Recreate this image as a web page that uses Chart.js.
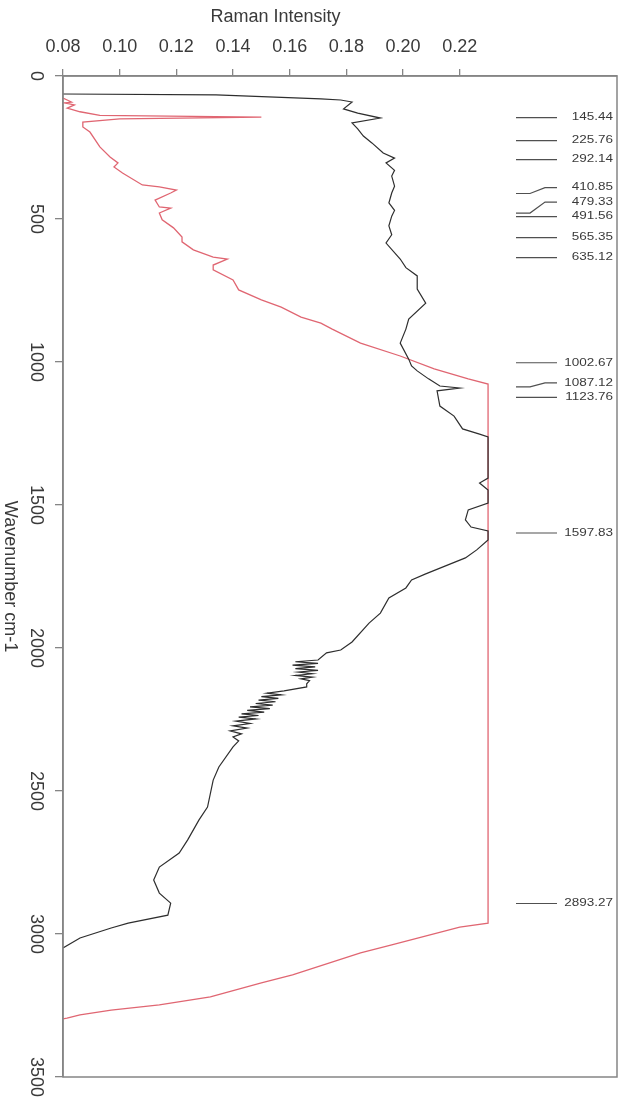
<!DOCTYPE html>
<html>
<head>
<meta charset="utf-8">
<script src="https://cdn.jsdelivr.net/npm/chart.js@4.4.1/dist/chart.umd.min.js"></script>
<style>
body{margin:0;background:#fff;}
#wrap{width:628px;height:1098px;}
</style>
</head>
<body>
<div id="wrap"><canvas id="grafica" width="628" height="1098"></canvas></div>
<script>
var intensityTicks = [0.08, 0.10, 0.12, 0.14, 0.16, 0.18, 0.20, 0.22];
var wavenumberTicks = [0, 500, 1000, 1500, 2000, 2500, 3000, 3500];

// curva negra
var blackWn = [63, 66, 80, 84, 91, 115, 130, 147, 164, 185, 210, 234, 269, 287, 304, 330, 350, 385, 409, 444, 470, 490, 524, 555, 584,
  640, 670, 699, 745, 794, 850, 885, 934, 990, 1014, 1031, 1059, 1084, 1091, 1101, 1154, 1189, 1234, 1252, 1262,
  1406, 1423, 1448, 1493, 1517, 1552, 1577, 1591, 1622, 1657, 1685, 1713, 1741, 1762, 1790, 1825, 1878, 1913,
  1979, 2007, 2017, 2042, 2048, 2054, 2060, 2066, 2072, 2078, 2084, 2090, 2096, 2102, 2108, 2114, 2125, 2136,
  2150, 2158, 2164, 2170, 2176, 2182, 2188, 2194, 2200, 2206, 2212, 2218, 2224, 2230, 2236, 2242, 2248, 2256,
  2264, 2272, 2280, 2290, 2300, 2311, 2325, 2346, 2416, 2462, 2556, 2601, 2671, 2717, 2766, 2811,
  2857, 2892, 2934, 2962, 2979, 3014, 3049];
var blackInt = [0.080, 0.134, 0.171, 0.178, 0.182, 0.179, 0.184, 0.192, 0.182, 0.184, 0.186, 0.189, 0.193, 0.197, 0.194, 0.197, 0.196, 0.197, 0.196, 0.195, 0.197, 0.196, 0.195, 0.196, 0.194,
  0.199, 0.201, 0.205, 0.205, 0.208, 0.202, 0.201, 0.199, 0.202, 0.203, 0.205, 0.209, 0.213, 0.220, 0.212, 0.213, 0.218, 0.221, 0.227, 0.230,
  0.230, 0.227, 0.230, 0.230, 0.223, 0.222, 0.224, 0.230, 0.230, 0.226, 0.222, 0.215, 0.208, 0.203, 0.201, 0.195, 0.192, 0.188,
  0.182, 0.178, 0.173, 0.170, 0.162, 0.170, 0.161, 0.169, 0.162, 0.170, 0.163, 0.168, 0.162, 0.168, 0.164, 0.167, 0.166, 0.166,
  0.158, 0.152, 0.157, 0.150, 0.156, 0.149, 0.155, 0.148, 0.154, 0.146, 0.153, 0.145, 0.151, 0.143, 0.149, 0.142, 0.148, 0.141,
  0.146, 0.140, 0.145, 0.139, 0.143, 0.140, 0.142, 0.140, 0.135, 0.133, 0.131, 0.128, 0.124, 0.121, 0.114, 0.112,
  0.114, 0.118, 0.117, 0.103, 0.097, 0.086, 0.080];

// curva roja
var redWn = [77, 91, 94, 101, 112, 125, 138, 144, 150, 161, 178, 196, 248, 283, 304, 318, 339, 381, 388, 399, 409, 434,
  458, 462, 479, 503, 531, 563, 580, 608, 633, 640, 661, 678, 713, 748, 783, 808, 843, 864, 885, 934, 979, 1024,
  1059, 1077, 2962, 2976, 3038, 3066, 3143, 3171, 3220, 3248, 3266, 3283, 3294, 3297];
var redInt = [0.080, 0.083, 0.0805, 0.084, 0.0815, 0.086, 0.093, 0.150, 0.100, 0.087, 0.087, 0.0895, 0.093, 0.0966, 0.0994, 0.098, 0.101, 0.108, 0.114, 0.120, 0.118, 0.1125,
  0.114, 0.118, 0.114, 0.115, 0.119, 0.122, 0.122, 0.126, 0.133, 0.138, 0.133, 0.133, 0.140, 0.142, 0.150, 0.157, 0.164, 0.171, 0.175, 0.185, 0.199, 0.211,
  0.223, 0.230, 0.230, 0.220, 0.196, 0.185, 0.161, 0.150, 0.132, 0.114, 0.097, 0.086, 0.0814, 0.080];

// picos marcados
var peakWn = [145.44, 225.76, 292.14, 410.85, 479.33, 491.56, 565.35, 635.12, 1002.67, 1087.12, 1123.76, 1597.83, 2893.27];

var fuente = '"Liberation Sans", Arial, sans-serif';

function puntos(wn, val) {
    var d = [];
    for (let i = 0; i < wn.length; i++) {
        d.push({x: val[i], y: wn[i]});
    }
    return d;
}

var dibujos = {
    id: 'dibujos',
    afterDraw: function(chart) {
        var ctx = chart.ctx, a = chart.chartArea;
        var xs = chart.scales.x, ys = chart.scales.y;
        ctx.save();
        // marco
        ctx.strokeStyle = '#858585';
        ctx.lineWidth = 1.5;
        ctx.strokeRect(a.left, a.top, a.right - a.left, a.bottom - a.top);

        // etiquetas del eje y, giradas
        ctx.fillStyle = '#3a3a3a';
        ctx.font = '18px ' + fuente;
        ctx.textAlign = 'center';
        ctx.textBaseline = 'middle';
        wavenumberTicks.forEach(function(v) {
            ctx.save();
            ctx.translate(a.left - 27, ys.getPixelForValue(v));
            ctx.rotate(Math.PI / 2);
            ctx.fillText(String(v), 0, 0);
            ctx.restore();
        });

        // titulos
        ctx.save();
        ctx.translate(10, (a.top + a.bottom) / 2);
        ctx.rotate(Math.PI / 2);
        ctx.fillText('Wavenumber cm-1', 0, 0);
        ctx.restore();
        ctx.fillText('Raman Intensity', xs.getPixelForValue(0.155), 17);

        // anotaciones de picos
        var ty = peakWn.map(function(w) { return ys.getPixelForValue(w); });
        var ly = ty.slice();
        for (let i = ly.length - 2; i >= 0; i--) {
            ly[i] = Math.min(ty[i], ly[i + 1] - 14.5);
        }
        var r = a.right;
        ctx.strokeStyle = '#505050';
        ctx.lineWidth = 1.2;
        ctx.font = '10px ' + fuente;
        ctx.textAlign = 'right';
        for (let i = 0; i < peakWn.length; i++) {
            ctx.beginPath();
            if (Math.abs(ty[i] - ly[i]) < 0.5) {
                ctx.moveTo(r - 101, ty[i]);
                ctx.lineTo(r - 60, ty[i]);
            } else {
                ctx.moveTo(r - 101, ty[i]);
                ctx.lineTo(r - 87, ty[i]);
                ctx.lineTo(r - 72, ly[i]);
                ctx.lineTo(r - 60, ly[i]);
            }
            ctx.stroke();
            ctx.save();
            ctx.translate(r - 4, ly[i]);
            ctx.scale(1.35, 1);
            ctx.fillText(peakWn[i].toFixed(2), 0, 0);
            ctx.restore();
        }
        ctx.restore();
    }
};

var ctx = document.getElementById('grafica').getContext('2d');
var myChart = new Chart(ctx, {
    type: 'scatter',
    data: {
        datasets: [{
            label: 'negro',
            data: puntos(blackWn, blackInt),
            showLine: true,
            borderColor: '#2e2e2e',
            borderWidth: 1.2,
            pointRadius: 0,
            tension: 0
        }, {
            label: 'rojo',
            data: puntos(redWn, redInt),
            showLine: true,
            borderColor: '#e06672',
            borderWidth: 1.3,
            pointRadius: 0,
            tension: 0
        }]
    },
    options: {
        responsive: false,
        animation: false,
        layout: {padding: {left: 0, right: 11, top: 0, bottom: 21}},
        plugins: {legend: {display: false}, tooltip: {enabled: false}},
        scales: {
            x: {
                type: 'linear',
                position: 'top',
                min: 0.08,
                max: 0.2755,
                afterBuildTicks: function(s) { s.ticks = intensityTicks.map(function(v) { return {value: v}; }); },
                afterFit: function(s) { s.height = 76; },
                grid: {drawOnChartArea: false, drawTicks: true, tickLength: 7, color: '#858585', lineWidth: 1.3},
                border: {display: true, color: '#858585', width: 1.5},
                ticks: {
                    autoSkip: false, maxRotation: 0, minRotation: 0, padding: 11,
                    color: '#3a3a3a', font: {family: fuente, size: 18},
                    callback: function(v) { return v.toFixed(2); }
                }
            },
            y: {
                type: 'linear',
                position: 'left',
                reverse: true,
                min: 0,
                max: 3500,
                afterBuildTicks: function(s) { s.ticks = wavenumberTicks.map(function(v) { return {value: v}; }); },
                afterFit: function(s) { s.width = 63; },
                grid: {drawOnChartArea: false, drawTicks: true, tickLength: 8, color: '#858585', lineWidth: 1.3},
                border: {display: true, color: '#858585', width: 1.5},
                ticks: {display: false}
            }
        }
    },
    plugins: [dibujos]
});
</script>
</body>
</html>
